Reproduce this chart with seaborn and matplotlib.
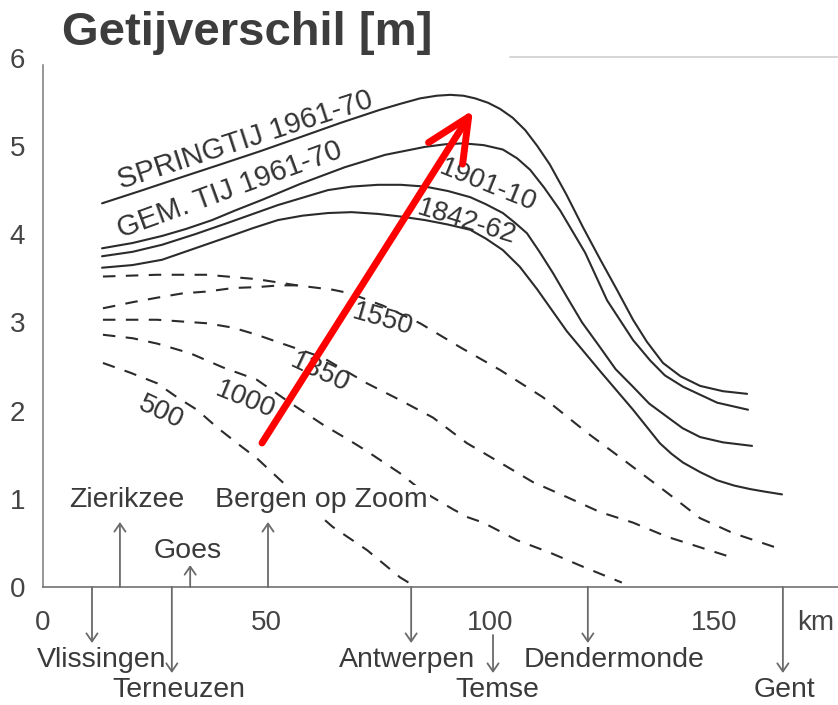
import numpy as np
import pandas as pd
import matplotlib
matplotlib.use("Agg")
import matplotlib.pyplot as plt
from matplotlib.lines import Line2D
import seaborn as sns

# ---------------- data (km from Vlissingen, tidal range in m) ----------------
springtij_km = [13.2, 21.7, 30.6, 39.6, 48.5, 57.5, 66.4, 75.3, 80.0, 84.3, 88.0, 91.0,
                94.0, 96.6, 99.5, 102.2, 105.0, 107.8, 110.5, 113.3, 117.0, 120.7, 124.5,
                128.3, 131.9, 135.0, 138.6, 142.5, 146.9, 152.0, 157.4]
springtij_m = [4.35, 4.49, 4.64, 4.79, 4.94, 5.10, 5.26, 5.41, 5.48, 5.54, 5.57, 5.58,
               5.57, 5.54, 5.49, 5.42, 5.32, 5.18, 5.00, 4.79, 4.45, 4.08, 3.72,
               3.37, 3.03, 2.78, 2.54, 2.39, 2.28, 2.22, 2.19]

gem_km = [13.2, 20.0, 26.6, 32.0, 37.8, 43.0, 49.0, 57.5, 67.5, 76.5, 85.4, 90.0, 93.9,
          98.5, 102.8, 106.0, 108.9, 112.0, 115.6, 121.2, 126.1, 131.9, 135.7, 139.0,
          143.1, 150.7, 157.6]
gem_m = [3.84, 3.90, 3.98, 4.06, 4.16, 4.27, 4.39, 4.57, 4.76, 4.90, 4.99, 5.02, 5.03,
         5.01, 4.96, 4.86, 4.73, 4.53, 4.27, 3.79, 3.25, 2.80, 2.57, 2.40,
         2.27, 2.09, 2.01]

t1901_km = [13.2, 20.0, 26.6, 34.0, 41.4, 52.5, 63.7, 69.0, 74.9, 80.0, 85.4, 90.5, 95.5,
            99.0, 102.8, 105.5, 108.2, 111.0, 114.0, 117.1, 120.5, 124.5, 128.0, 131.9,
            135.5, 139.5, 143.0, 146.9, 152.0, 158.5]
t1901_m = [3.75, 3.80, 3.88, 4.00, 4.13, 4.33, 4.50, 4.54, 4.56, 4.56, 4.54, 4.49, 4.42,
           4.34, 4.24, 4.13, 4.01, 3.80, 3.56, 3.29, 3.00, 2.72, 2.47, 2.27,
           2.08, 1.93, 1.80, 1.70, 1.64, 1.60]

t1842_km = [13.2, 20.0, 26.6, 34.0, 41.4, 47.0, 52.5, 58.0, 63.7, 69.0, 74.9, 80.0, 85.4,
            90.5, 95.5, 99.0, 102.8, 106.6, 110.4, 117.1, 124.5, 131.9, 137.9, 140.5,
            143.1, 147.0, 150.7, 154.5, 158.1, 161.5, 165.2]
t1842_m = [3.62, 3.65, 3.71, 3.84, 3.97, 4.07, 4.16, 4.21, 4.24, 4.25, 4.23, 4.20, 4.16,
           4.11, 4.05, 3.95, 3.82, 3.63, 3.38, 2.90, 2.45, 2.01, 1.63, 1.51,
           1.41, 1.30, 1.21, 1.15, 1.11, 1.08, 1.05]

d1550_km = [13.4, 25.5, 36.7, 47.8, 56.8, 64.8, 68.6, 76.0, 84.3, 93.2, 102.2, 111.8,
            121.6, 130.6, 139.5, 146.9, 154.3, 164.3]
d1550_m = [3.52, 3.54, 3.54, 3.49, 3.42, 3.37, 3.33, 3.19, 2.99, 2.72, 2.46, 2.15,
           1.75, 1.41, 1.07, 0.78, 0.61, 0.44]

d1550b_km = [13.4, 20.1, 25.5, 31.3, 36.7, 42.5, 47.8, 53.0, 56.8]
d1550b_m = [3.16, 3.23, 3.28, 3.33, 3.35, 3.39, 3.40, 3.42, 3.42]

d1350_km = [13.4, 25.5, 36.7, 42.5, 47.8, 52.3, 57.5, 62.6, 72.4, 79.8, 87.2, 94.8,
            102.2, 109.5, 117.1, 124.5, 131.9, 139.5, 146.9, 153.1]
d1350_m = [3.03, 3.03, 2.99, 2.94, 2.86, 2.78, 2.69, 2.60, 2.31, 2.12, 1.92, 1.63,
           1.41, 1.19, 1.02, 0.85, 0.73, 0.57, 0.45, 0.35]

d1000_km = [13.4, 20.1, 25.5, 32.9, 40.2, 47.8, 55.2, 62.6, 68.6, 72.4, 79.8, 85.0,
            91.7, 95.0, 98.4, 106.0, 113.3, 120.7, 129.4]
d1000_m = [2.86, 2.82, 2.76, 2.65, 2.49, 2.35, 2.09, 1.84, 1.66, 1.54, 1.29, 1.08,
           0.88, 0.79, 0.73, 0.53, 0.39, 0.23, 0.05]

d500_km = [13.4, 19.5, 25.5, 30.0, 34.4, 38.9, 43.4, 47.8, 51.4, 58.0, 64.8, 72.4, 79.8, 82.7]
d500_m = [2.54, 2.43, 2.31, 2.15, 2.01, 1.81, 1.63, 1.46, 1.29, 0.98, 0.68, 0.42, 0.11, 0.02]

series = [
    ("springtij", "solid", springtij_km, springtij_m),
    ("gem", "solid", gem_km, gem_m),
    ("1901-10", "solid", t1901_km, t1901_m),
    ("1842-62", "solid", t1842_km, t1842_m),
    ("1550", "dashed", d1550_km, d1550_m),
    ("1550b", "dashed", d1550b_km, d1550b_m),
    ("1350", "dashed", d1350_km, d1350_m),
    ("1000", "dashed", d1000_km, d1000_m),
    ("500", "dashed", d500_km, d500_m),
]

# curve labels
curve_labels = ["SPRINGTIJ 1961-70", "GEM. TIJ 1961-70", "1901-10", "1842-62",
                "1550", "1350", "1000", "500"]
label_km = [45.2, 41.8, 99.5, 94.6, 76.0, 61.9, 45.2, 26.4]
label_m = [5.07, 4.50, 4.55, 4.14, 3.03, 2.43, 2.12, 1.98]
label_rot = [18, 20, -22, -17, -16, -25, -22, -25]
label_size = [21, 21, 20, 20, 20, 20, 20, 20]

# places downstream (below axis)
down_names = ["Vlissingen", "Terneuzen", "Antwerpen", "Temse", "Dendermonde", "Gent"]
down_km = [10.95, 28.8, 82.3, 100.6, 121.8, 165.4]
down_text_km = [13.0, 30.4, 81.4, 101.6, 127.7, 165.8]
down_row = [0, 1, 0, 1, 0, 1]

# places on the Oosterschelde (above axis)
up_names = ["Zierikzee", "Goes", "Bergen op Zoom"]
up_km = [17.2, 32.9, 50.3]
up_tip_m = [0.737, 0.249, 0.737]
up_text_km = [18.8, 32.4, 62.2]
up_text_m = [0.907, 0.329, 0.907]

arrow_start = (48.96, 1.633)
arrow_end = (96.13, 5.408)

x_ticks = [0, 50, 100, 150]
y_ticks = [0, 1, 2, 3, 4, 5, 6]

# ---------------- build table ----------------
rows = []
for name, kind, xs, ys in series:
    for x, y in zip(xs, ys):
        rows.append({"series": name, "kind": kind, "km": x, "m": y})
df = pd.DataFrame(rows)

sns.set_style("white")
plt.rcParams["font.family"] = ["Liberation Sans", "DejaVu Sans"]

fig = plt.figure(figsize=(8.38, 7.05), dpi=100)
ax = fig.add_axes([43 / 838, 118 / 705, 1 - 43 / 838, 6 * 88.2 / 705])

line_col = "#2b2b2b"
sns.lineplot(data=df, x="km", y="m", hue="series", style="kind",
             palette={s[0]: line_col for s in series},
             dashes={"solid": "", "dashed": (6, 5)},
             linewidth=1.5, estimator=None, sort=False, legend=False, ax=ax)
for ln in ax.get_lines():
    ln.set_solid_joinstyle("round")
    ln.set_solid_capstyle("round")

ax.set_xlim(0, (838 - 43) / 4.4733)
ax.set_ylim(0, 6)
ax.set_xlabel("")
ax.set_ylabel("")
ax.set_xticks(x_ticks)
ax.set_yticks(y_ticks)
ax.set_xticklabels([str(v) for v in x_ticks])
ax.set_yticklabels([str(v) for v in y_ticks])

for side in ["top", "right"]:
    ax.spines[side].set_visible(False)
ax.spines["left"].set_color("#7a7a7a")
ax.spines["bottom"].set_color("#666666")
ax.spines["left"].set_linewidth(1.1)
ax.spines["bottom"].set_linewidth(1.1)
ax.spines["left"].set_bounds(0, 5.92)

ax.tick_params(axis="x", direction="out", length=11.5, width=1.1, color="#7a7a7a",
               pad=5, labelsize=20, labelcolor="#444444")
ax.tick_params(axis="y", direction="in", length=13.7, width=1.1, color="#7a7a7a",
               pad=13, labelsize=20, labelcolor="#444444")
for t in ax.yaxis.get_major_ticks():
    if abs(t.get_loc() - 6) < 1e-9:
        t.tick1line.set_visible(False)

# curve labels
for txt, x, y, r, s in zip(curve_labels, label_km, label_m, label_rot, label_size):
    ax.text(x, y, txt, fontsize=s, rotation=r, rotation_mode="anchor",
            ha="center", va="center", color="#333333", zorder=4)

# downstream place arrows and names
arrow_col = "#6a6a6a"
for name, x, tx, row in zip(down_names, down_km, down_text_km, down_row):
    if name == "Temse":
        y0, y1 = -0.544, -0.975
    elif row == 0:
        y0, y1 = 0.0, -0.635
    else:
        y0, y1 = 0.0, -0.975
    ax.annotate("", xy=(x, y1), xytext=(x, y0), annotation_clip=False,
                arrowprops=dict(arrowstyle="->,head_length=5.8,head_width=4",
                                mutation_scale=1, color=arrow_col, lw=1.3,
                                shrinkA=0, shrinkB=0, clip_on=False))
    yb = -0.907 if row == 0 else -1.247
    ax.text(tx, yb, name, fontsize=20.5, ha="center", va="baseline",
            color="#3a3a3a", clip_on=False, zorder=4)

ax.text(168.6, -0.488, "km", fontsize=20, ha="left", va="baseline",
        color="#444444", clip_on=False)

# upstream (Oosterschelde) arrows and names
for name, x, tip, tx, ty in zip(up_names, up_km, up_tip_m, up_text_km, up_text_m):
    ax.annotate("", xy=(x, tip), xytext=(x, 0.0), annotation_clip=False,
                arrowprops=dict(arrowstyle="->,head_length=5.8,head_width=4",
                                mutation_scale=1, color=arrow_col, lw=1.3,
                                shrinkA=0, shrinkB=0))
    ax.text(tx, ty, name, fontsize=20.5, ha="center", va="baseline", color="#3a3a3a",
            zorder=5, bbox=dict(facecolor="white", edgecolor="none", pad=1.5))

# red highlight arrow
ax.annotate("", xy=arrow_end, xytext=arrow_start, zorder=8,
            arrowprops=dict(arrowstyle="->,head_length=31,head_width=14.5",
                            mutation_scale=1, color="#ff0000", lw=5,
                            shrinkA=0, shrinkB=0, capstyle="round",
                            joinstyle="round"))

# title and header rule
fig.text(62 / 838, (705 - 45) / 705, "Getijverschil [m]", fontsize=34,
         fontweight="bold", color="#3d3d3d", ha="left", va="baseline")
fig.add_artist(Line2D([510 / 838, 1.0], [1 - 57 / 705, 1 - 57 / 705],
                      color="#cfcfcf", lw=1.2, transform=fig.transFigure))

fig.savefig("out.png", dpi=100, facecolor="white")
